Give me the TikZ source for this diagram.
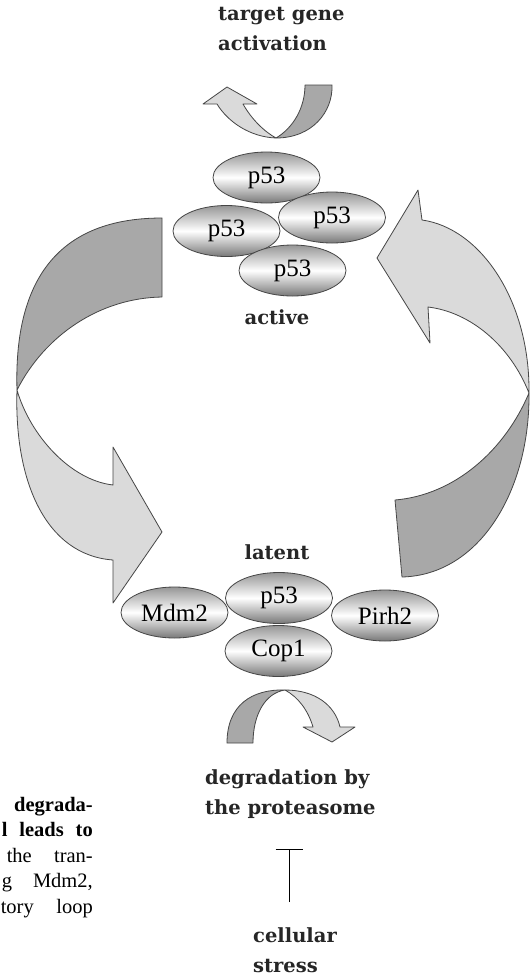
\documentclass[tikz,border=0pt]{standalone}
\usepackage{fontspec}
\setmainfont{Liberation Serif}
\newfontfamily\lblfont{DejaVu Serif}
\usetikzlibrary{shapes.geometric,arrows.meta}
\definecolor{bandDark}{RGB}{168,168,168}
\definecolor{bandLight}{RGB}{218,218,218}
\definecolor{edgeGray}{RGB}{70,70,70}
\definecolor{ellTop}{RGB}{150,150,150}
\definecolor{ellBot}{RGB}{120,120,120}
\begin{document}
\begin{tikzpicture}[x=1pt,y=-1pt,
  band/.style={draw=edgeGray, line width=0.8pt, line join=round},
  dark/.style={band, fill=bandDark},
  light/.style={band, fill=bandLight},
  prot/.style={ellipse, draw=edgeGray, line width=0.8pt, top color=ellTop, bottom color=ellBot, middle color=white,
    minimum width=107pt, minimum height=51pt, inner sep=0pt, font=\fontsize{25}{25}\selectfont},
  lbl/.style={font=\lblfont\bfseries\fontsize{19.5}{30.5}\selectfont, text=black!85, inner sep=0pt, align=left},
  captxt/.style={font=\fontsize{20.5}{25.5}\selectfont, inner sep=0pt, align=right},
]
\fill[white] (0,0) rectangle (531,978);
\useasboundingbox (0,0) rectangle (531,978);

% ---- top arrow (target gene activation)
\draw[dark] (305,85) -- (332,85) .. controls (333,112) and (312,138) .. (276,138)
  .. controls (293,128) and (305,108) .. (305,85) -- cycle;
\draw[light] (276,138) .. controls (250,137) and (228,122) .. (217,104) -- (203,104) -- (227,87)
  -- (257,104) -- (243,104) .. controls (252,120) and (265,132) .. (276,138) -- cycle;

% ---- left big arrow
\draw[dark] (162,218) -- (162,297) .. controls (100,298) and (45,335) .. (17,390)
  .. controls (14,290) and (50,218) .. (162,218) -- cycle;
\draw[light] (17,390) .. controls (14,480) and (45,555) .. (113,560) -- (113,603) -- (162,532)
  -- (113,447) -- (113,485) .. controls (70,480) and (30,435) .. (17,390) -- cycle;

% ---- right big arrow
\draw[dark] (395,500) -- (402,577) .. controls (480,575) and (530,490) .. (529,393)
  .. controls (505,450) and (455,495) .. (395,500) -- cycle;
\draw[light] (529,393) .. controls (530,300) and (480,228) .. (422,220) -- (418,190) -- (377,258)
  -- (430,343) -- (428,307) .. controls (470,312) and (510,345) .. (529,393) -- cycle;

% ---- bottom arrow (degradation)
\draw[dark] (227,743) .. controls (227,705) and (252,689) .. (285,690)
  .. controls (265,693) and (253,715) .. (253,743) -- cycle;
\draw[light] (285,690) .. controls (315,690) and (335,705) .. (340,727) -- (355,727) -- (332,742)
  -- (303,727) -- (313,727) .. controls (308,710) and (298,697) .. (285,690) -- cycle;

% ---- active tetramer
\node[prot] (pt) at (266.5,177.5) {p53};
\node[prot] (pl) at (226.5,231) {p53};
\node[prot] (pr) at (332,217.5) {p53};
\node[prot] (pb) at (292.5,270.5) {p53};

% ---- latent complex
\node[prot] (mdm) at (174.5,612.5) {Mdm2};
\node[prot] (pirh) at (385,615.5) {Pirh2};
\node[prot] (pc) at (279,598) {p53};
\node[prot] (cop) at (278.5,651) {Cop1};

% ---- labels
\node[lbl, anchor=north west] (tga) at (218,7) {target gene\\activation};
\node[lbl] (act) at (277,317) {active};
\node[lbl] (lat) at (277,552) {latent};
\node[lbl, anchor=north west] (deg) at (205,769) {degradation by\\the proteasome};
\node[lbl, anchor=north west] (cs) at (253,927) {cellular\\stress};

% ---- inhibition
\coordinate (tbar) at (289,849);
\coordinate (tfoot) at (289,902);
\draw[line width=1pt, -{Bar[width=27pt,line width=1pt]}] (tfoot) -- (tbar);

% ---- caption fragment
\node[captxt, anchor=north east] (capt) at (93,797)
  {\textbf{degrada-}\\\textbf{\makebox[91pt][s]{l leads to}}\\\makebox[86pt][s]{the tran-}\\
   \makebox[91pt][s]{g Mdm2,}\\\makebox[92pt][s]{tory loop}};
\end{tikzpicture}
\end{document}
